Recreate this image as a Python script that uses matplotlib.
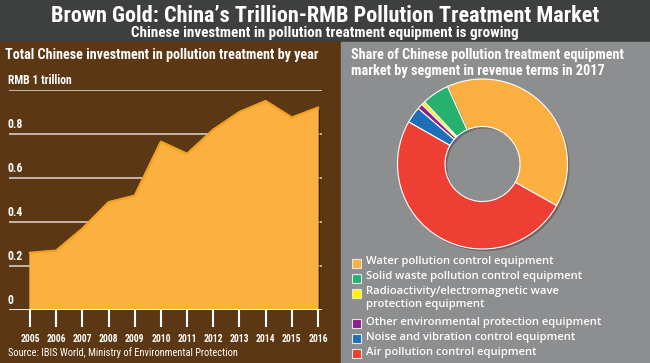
import matplotlib
matplotlib.use("Agg")
import matplotlib.pyplot as plt
import matplotlib.patheffects as pe
from matplotlib import font_manager
from matplotlib.patches import Rectangle
from matplotlib.transforms import blended_transform_factory

# data
years = list(range(2005, 2017))
investment = [0.26, 0.27, 0.37, 0.49, 0.52, 0.765, 0.71, 0.82, 0.90, 0.95, 0.875, 0.92]
y_ticks = [0, 0.2, 0.4, 0.6, 0.8, 1.0]
y_tick_labels = ["0", "0.2", "0.4", "0.6", "0.8", "RMB 1 trillion"]

segments = [
    "Water pollution control equipment",
    "Solid waste pollution control equipment",
    "Radioactivity/electromagnetic wave\nprotection equipment",
    "Other environmental protection equipment",
    "Noise and vibration control equipment",
    "Air pollution control equipment",
]
shares = [39.9, 5.2, 0.7, 1.0, 3.1, 50.1]
seg_colors = ["#fbaf41", "#27b16f", "#fff200", "#8e1f8f", "#1c6fb8", "#ee3f35"]

W, H = 650, 363
BROWN = "#5b3713"
GRAY = "#8d8e90"
HEADER = "#3e3f3f"


def pick_font():
    fl = font_manager.fontManager.ttflist
    names = {f.name for f in fl}
    for name in ["Roboto Condensed", "Liberation Sans Narrow", "Open Sans Condensed"]:
        if name in names:
            return name, "normal"
    if any(f.name == "DejaVu Sans" and f.stretch == "condensed" for f in fl):
        return "DejaVu Sans", "condensed"
    return "DejaVu Sans", "normal"


FONT, STRETCH = pick_font()
plt.rcParams["font.family"] = FONT
plt.rcParams["font.stretch"] = STRETCH


def fx(x):
    return x / W


def fy(y):
    return 1 - y / H


fig = plt.figure(figsize=(6.5, 3.63), dpi=100)

# backgrounds
for rect in [((0, fy(42)), 1, 42 / H, HEADER),
             ((0, 0), fx(341), fy(42), BROWN),
             ((fx(341), 0), 1 - fx(341), fy(42), GRAY)]:
    fig.patches.append(Rectangle(rect[0], rect[1], rect[2], transform=fig.transFigure,
                                 color=rect[3], zorder=-5))

fig.text(0.5, fy(16), "Brown Gold: China\u2019s Trillion-RMB Pollution Treatment Market",
         ha="center", va="center", color="white", fontsize=16, fontweight="bold")
fig.text(0.5, fy(33), "Chinese investment in pollution treatment equipment is growing",
         ha="center", va="center", color="white", fontsize=10.9, fontweight="bold")

# area chart
fig.text(fx(5), fy(55), "Total Chinese investment in pollution treatment by year",
         ha="left", va="center", color="white", fontsize=10.2, fontweight="bold")

step = 26.18
ax = fig.add_axes([fx(9), fy(310), 313 / W, 220 / H])
ax.set_facecolor("none")
ax.set_xlim(2005 - 21 / step, 2016 + 4 / step)
ax.set_ylim(0, 1)
for s in ax.spines.values():
    s.set_visible(False)

ax.hlines(y_ticks[1:], 2005 - 21 / step, 2016 + 4 / step, color="#d8cdc2", lw=1.2, zorder=1)
ax.fill_between(years, investment, color="#fbb040", zorder=3,
                path_effects=[pe.SimplePatchShadow(offset=(1.5, -1.5), shadow_rgbFace="black", alpha=0.45),
                              pe.Normal()])
ax.plot(years, investment, color="#f2a11e", lw=1.6, zorder=4)
ax.axhline(0, color="white", lw=2, zorder=5)

ax.set_xticks(years)
ax.set_xticklabels([str(y) for y in years], fontweight="bold")
ax.tick_params(axis="x", length=12, width=1.5, color="white", direction="out",
               pad=5, labelsize=6.9, labelcolor="white")
ax.set_yticks([])

trans = blended_transform_factory(fig.transFigure, ax.transData)
for v, lab in zip(y_ticks, y_tick_labels):
    ax.text(fx(8), v + 0.012, lab, transform=trans, ha="left", va="bottom",
            color="white", fontsize=8.5, fontweight="bold", zorder=6)

fig.text(fx(8), fy(353), "Source: IBIS World, Ministry of Environmental Protection",
         ha="left", va="center", color="white", fontsize=7.5)

# donut
fig.text(fx(351), fy(63), "Share of Chinese pollution treatment equipment\nmarket by segment in revenue terms in 2017",
         ha="left", va="center", color="white", fontsize=10.3, fontweight="bold", linespacing=1.2)

cx, cy, r_out, r_in = 482.5, 164, 85, 37.5
box = 92
ax2 = fig.add_axes([fx(cx - box), fy(cy + box), 2 * box / W, 2 * box / H])
wedges, _ = ax2.pie(shares, colors=seg_colors, startangle=-29.3, counterclock=True, radius=1,
                    wedgeprops=dict(width=(r_out - r_in) / r_out, edgecolor="white", linewidth=0.8))
for w in wedges:
    w.set_path_effects([pe.SimplePatchShadow(offset=(1.5, -1.5), alpha=0.35), pe.Normal()])
lim = box / r_out
ax2.set_xlim(-lim, lim)
ax2.set_ylim(-lim, lim)
ax2.axis("off")

# legend
row = 263
for lab, col in zip(segments, seg_colors):
    fig.patches.append(Rectangle((fx(352), fy(row + 4.5)), 9 / W, 9 / H, transform=fig.transFigure,
                                 facecolor=col, edgecolor="#e6e6e6", lw=0.8, zorder=2))
    fig.text(fx(366), fy(row - 6.8), lab, ha="left", va="top", color="white", fontsize=8.1,
             fontfamily="Open Sans", fontweight="semibold", linespacing=1.2)
    row += 15.1 * (lab.count("\n") + 1)

fig.savefig("out.png", dpi=100, facecolor=fig.get_facecolor())
